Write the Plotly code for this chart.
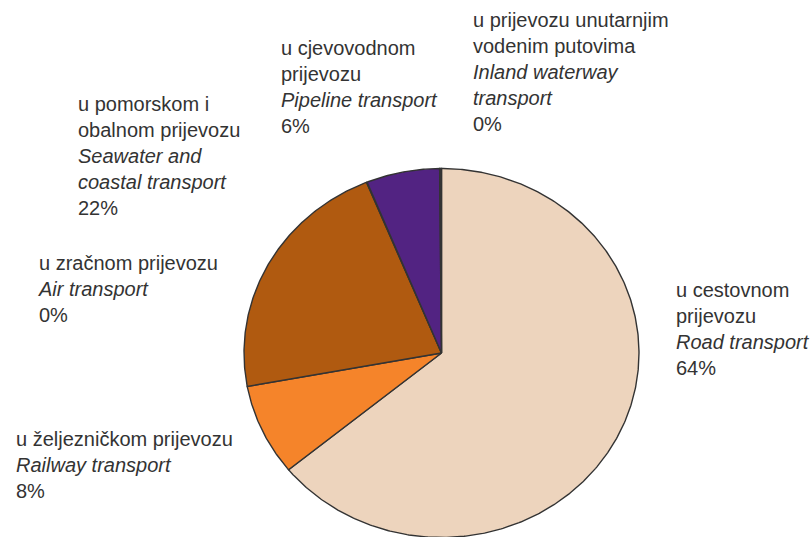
import numpy as np
import plotly.graph_objects as go

# Struktura prijevoza robe po vrstama prijevoza (udio u %)
hr_labels = ['u cestovnom<br>prijevozu', 'u željezničkom prijevozu', 'u pomorskom i<br>obalnom prijevozu',
             'u zračnom prijevozu', 'u cjevovodnom<br>prijevozu', 'u prijevozu unutarnjim<br>vodenim putovima']
en_labels = ['Road transport', 'Railway transport', 'Seawater and<br>coastal transport',
             'Air transport', 'Pipeline transport', 'Inland waterway<br>transport']
shares = [64.1, 8.0, 21.7, 0.05, 6.0, 0.15]
colors = ['#EDD4BD', '#F5842A', '#B05A10', '#8C8C8C', '#522382', '#3A3A3A']

# pozicije natpisa (px od lijevog/gornjeg ruba)
label_pos = [(674, 277), (14, 426), (76, 91), (36, 250), (279, 35), (471, 7)]

W, H = 810, 537
cx, cy, rx, ry = 441.5, 353, 197.5, 184.5

fig = go.Figure()

total = sum(shares)
start = 0.0
for share, col in zip(shares, colors):
    a0 = start / total * 2 * np.pi
    a1 = (start + share) / total * 2 * np.pi
    start += share
    n = max(2, int(np.degrees(a1 - a0)) * 2)
    th = np.linspace(a0, a1, n)
    xs = np.concatenate([[0], np.sin(th), [0]])
    ys = np.concatenate([[0], np.cos(th), [0]])
    fig.add_trace(go.Scatter(x=xs, y=ys, mode='lines', fill='toself', fillcolor=col,
                             line=dict(color='#333333', width=1.4), hoverinfo='skip',
                             showlegend=False))

for hr, en, share, (px, py) in zip(hr_labels, en_labels, shares, label_pos):
    en_txt = '<br>'.join(f'<i>{s}</i>' for s in en.split('<br>'))
    txt = f'{hr}<br>{en_txt}<br>{round(share)}%'
    fig.add_annotation(x=px / W, y=1 - py / H, xref='paper', yref='paper',
                       xanchor='left', yanchor='top', align='left', showarrow=False,
                       text=txt, font=dict(size=20, color='#333333'))

fig.update_layout(
    width=W, height=H,
    margin=dict(l=0, r=0, t=0, b=0),
    paper_bgcolor='white', plot_bgcolor='white',
    font=dict(family='Liberation Sans, Arial, sans-serif'),
    xaxis=dict(range=[-cx / rx, (W - cx) / rx], visible=False, fixedrange=True),
    yaxis=dict(range=[-(H - cy) / ry, cy / ry], visible=False, fixedrange=True),
)

# bez margina stranice, da slika stane tocno u prozor
fig.write_html('out.html', config={'displayModeBar': False},
               post_script="document.body.style.margin='0';document.body.style.overflow='hidden';")
